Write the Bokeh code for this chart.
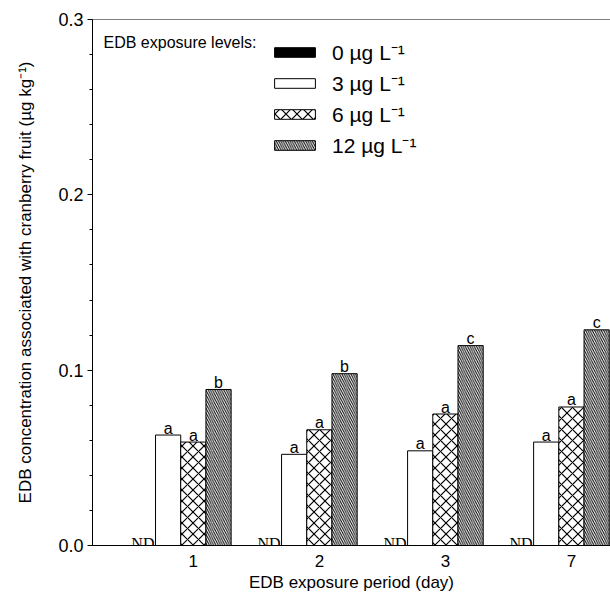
from bokeh.plotting import figure
from bokeh.models import (ColumnDataSource, Range1d, FixedTicker, Legend, LegendItem,
                          Label, Span)
from bokeh.embed import file_html
from bokeh.resources import INLINE
from bokeh.core.properties import value

# ---- data ----
days = ["1", "2", "3", "7"]
level_labels = ["0 µg L⁻¹", "3 µg L⁻¹", "6 µg L⁻¹", "12 µg L⁻¹"]
conc_0 = [0.0, 0.0, 0.0, 0.0]
conc_3 = [0.063, 0.052, 0.054, 0.059]
conc_6 = [0.059, 0.066, 0.075, 0.079]
conc_12 = [0.089, 0.098, 0.114, 0.123]
letters_3 = ["a", "a", "a", "a"]
letters_6 = ["a", "a", "a", "a"]
letters_12 = ["b", "b", "c", "c"]
nd_text = ["ND", "ND", "ND", "ND"]
y_ticks = [0.0, 0.1, 0.2, 0.3]

FONT = "Liberation Sans"
W = 0.2
idx = list(range(len(days)))

p = figure(width=610, height=599, output_backend="svg", toolbar_location=None,
           x_range=Range1d(-0.80, 3.31), y_range=Range1d(0, 0.3),
           min_border_left=92, min_border_right=0, min_border_top=19,
           min_border_bottom=54)
p.outline_line_color = None
p.xgrid.visible = False
p.ygrid.visible = False
p.background_fill_color = "white"
p.border_fill_color = "white"

def xs(off):
    return [i + off * W for i in idx]

s0 = ColumnDataSource(dict(x=xs(-2), top=conc_0))
s3 = ColumnDataSource(dict(x=xs(-1), top=conc_3, lab=letters_3))
s6 = ColumnDataSource(dict(x=xs(0), top=conc_6, lab=letters_6))
s12 = ColumnDataSource(dict(x=xs(1), top=conc_12, lab=letters_12))
snd = ColumnDataSource(dict(x=xs(-2), y=conc_0, lab=nd_text))

r0 = p.vbar(x="x", top="top", width=W, source=s0, fill_color="black",
            line_color="black", line_width=1)
r3 = p.vbar(x="x", top="top", width=W, source=s3, fill_color="white",
            line_color="black", line_width=1)
r6 = p.vbar(x="x", top="top", width=W, source=s6, fill_color="white",
            line_color="black", line_width=1, hatch_pattern="diagonal_cross",
            hatch_color="black", hatch_scale=11, hatch_weight=1.2)
r12 = p.vbar(x="x", top="top", width=W, source=s12, fill_color="white",
             line_color="black", line_width=1, hatch_pattern="left_diagonal_line",
             hatch_color="black", hatch_scale=4.5, hatch_weight=1)

for s in (s3, s6, s12):
    p.text(x="x", y="top", text="lab", source=s, text_font=value(FONT),
           text_font_size="16px", text_align="center",
           text_baseline="alphabetic", y_offset=-7, text_color="black")

p.text(x="x", y="y", text="lab", source=snd, text_font=value("Liberation Serif"),
       text_font_size="16px", text_align="center", text_baseline="alphabetic",
       y_offset=-2, text_color="black")

# top frame line
p.add_layout(Span(location=p.y_range.end, dimension="width", line_color="black",
                  line_width=1))

# axes
p.xaxis.ticker = FixedTicker(ticks=idx)
p.xaxis.major_label_overrides = {i: d for i, d in zip(idx, days)}
p.xaxis.major_tick_out = 0
p.xaxis.major_tick_in = 0
p.xaxis.minor_tick_out = 0
p.xaxis.minor_tick_in = 0
p.xaxis.major_label_standoff = 9
p.xaxis.axis_label = "EDB exposure period (day)"
p.xaxis.axis_label_standoff = 3
p.xaxis.axis_label_text_font_style = "normal"

p.yaxis.ticker = FixedTicker(ticks=y_ticks, minor_ticks=[i * 0.02 for i in range(16)])
p.yaxis.major_label_overrides = {t: f"{t:.1f}" for t in y_ticks}
p.yaxis.major_tick_out = 5
p.yaxis.major_tick_in = 0
p.yaxis.minor_tick_out = 3
p.yaxis.minor_tick_in = 0
p.yaxis.major_label_standoff = 4
p.yaxis.axis_label = "EDB concentration associated with cranberry fruit (µg kg⁻¹)"
p.yaxis.axis_label_standoff = 20
p.yaxis.axis_label_text_font_style = "normal"

for ax in (p.xaxis, p.yaxis):
    ax.axis_line_color = "black"
    ax.major_tick_line_color = "black"
    ax.minor_tick_line_color = "black"
    ax.major_label_text_font = FONT
    ax.major_label_text_color = "black"
    ax.axis_label_text_font = FONT
    ax.axis_label_text_font_size = "17px"
    ax.axis_label_text_color = "black"
p.xaxis.major_label_text_font_size = "17px"
p.yaxis.major_label_text_font_size = "18px"

# legend
p.add_layout(Label(x=p.x_range.start, y=p.y_range.end, x_offset=11, y_offset=-31,
                   text="EDB exposure levels:", text_font=FONT,
                   text_font_size="16px", text_color="black"))

legend = Legend(items=[LegendItem(label=level_labels[0], renderers=[r0]),
                       LegendItem(label=level_labels[1], renderers=[r3]),
                       LegendItem(label=level_labels[2], renderers=[r6]),
                       LegendItem(label=level_labels[3], renderers=[r12])],
                location=(177, 386), glyph_width=51, glyph_height=12,
                label_text_font=FONT, label_text_font_size="21px",
                label_text_color="black", label_standoff=12, label_height=27,
                spacing=3, padding=0, margin=0, border_line_color=None,
                background_fill_alpha=0)
p.add_layout(legend)

open("out.html", "w").write(file_html(p, INLINE))
